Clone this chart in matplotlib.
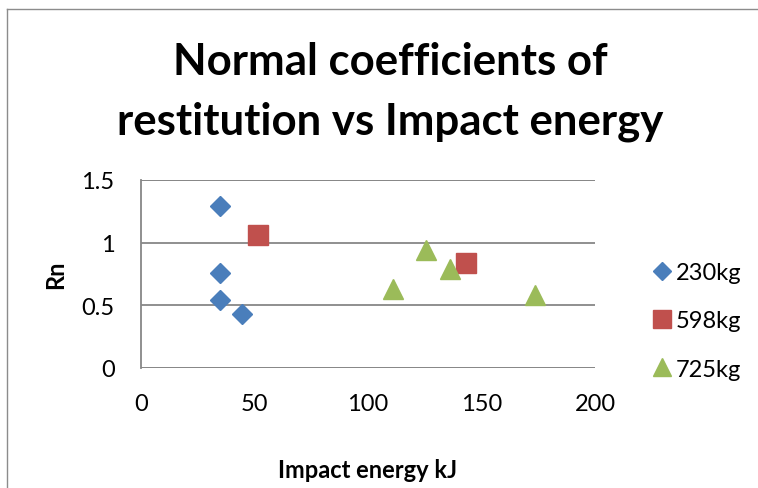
import matplotlib.pyplot as plt
from matplotlib.lines import Line2D

# Impact energy (kJ) and normal coefficient of restitution for each mass
energy_230 = [35, 35, 35, 44.5]
rn_230 = [1.29, 0.76, 0.54, 0.43]

energy_598 = [51.5, 143]
rn_598 = [1.06, 0.84]

energy_725 = [111, 125.5, 136, 173.5]
rn_725 = [0.63, 0.94, 0.79, 0.58]

x_ticks = [0, 50, 100, 150, 200]
y_ticks = [0, 0.5, 1, 1.5]

FONT = "Lato"
GRID_COLOR = "#878787"

plt.rcParams["font.family"] = [FONT, "DejaVu Sans"]

fig = plt.figure(figsize=(7.58, 4.89), dpi=100)
ax = fig.add_axes([141 / 758, 1 - 369 / 489, (595 - 141) / 758, (369 - 181) / 489])

ax.plot(energy_230, rn_230, linestyle="none", marker="D", markersize=10,
        color="#4A7EBB", markeredgecolor="#4A7EBB", label="230kg", clip_on=False)
ax.plot(energy_598, rn_598, linestyle="none", marker="s", markersize=14.4,
        color="#C0504D", markeredgecolor="#C0504D", label="598kg", clip_on=False)
ax.plot(energy_725, rn_725, linestyle="none", marker="^", markersize=14.4,
        color="#9BBB59", markeredgecolor="#9BBB59", label="725kg", clip_on=False)

ax.set_xlim(0, 200)
ax.set_ylim(0, 1.5)
ax.set_xticks(x_ticks)
ax.set_yticks(y_ticks)
ax.set_yticklabels(["0", "0.5", "1", "1.5"])

for side in ["top", "right", "bottom"]:
    ax.spines[side].set_visible(False)
ax.spines["left"].set_color(GRID_COLOR)
ax.spines["left"].set_linewidth(1.3)
ax.yaxis.grid(True, color=GRID_COLOR, linewidth=1.3)
ax.set_axisbelow(True)
ax.axhline(0, color=GRID_COLOR, linewidth=1.3, zorder=0.5)
ax.axhline(1.5, color=GRID_COLOR, linewidth=1.3, zorder=0.5)

ax.tick_params(axis="x", length=0, pad=18, labelsize=17)
ax.tick_params(axis="y", length=0, pad=19, labelsize=17)

ax.set_xlabel("Impact energy kJ", fontsize=17, fontweight="bold", labelpad=32)
ax.set_ylabel("Rn", fontsize=17, fontweight="bold", labelpad=10)

fig.text(390 / 758, 1 - 75 / 489, "Normal coefficients of", ha="center",
         va="baseline", fontsize=31.5, fontweight="bold")
fig.text(390 / 758, 1 - 135 / 489, "restitution vs Impact energy", ha="center",
         va="baseline", fontsize=31.5, fontweight="bold")

ax.legend(loc="center left", bbox_to_anchor=(1.1, 0.25), frameon=False,
          fontsize=17, markerscale=0.88, handletextpad=0.1, handlelength=1.0,
          labelspacing=1.15, borderaxespad=0)

# chart frame: only its top and left edges fall inside the image
fx, fy = 7 / 758, 1 - 10 / 489
fig.add_artist(Line2D([fx, 1.0], [fy, fy], transform=fig.transFigure,
                      color="#8C8C8C", linewidth=1.0))
fig.add_artist(Line2D([fx, fx], [0.0, fy], transform=fig.transFigure,
                      color="#8C8C8C", linewidth=1.0))

fig.savefig("out.png", dpi=100)
